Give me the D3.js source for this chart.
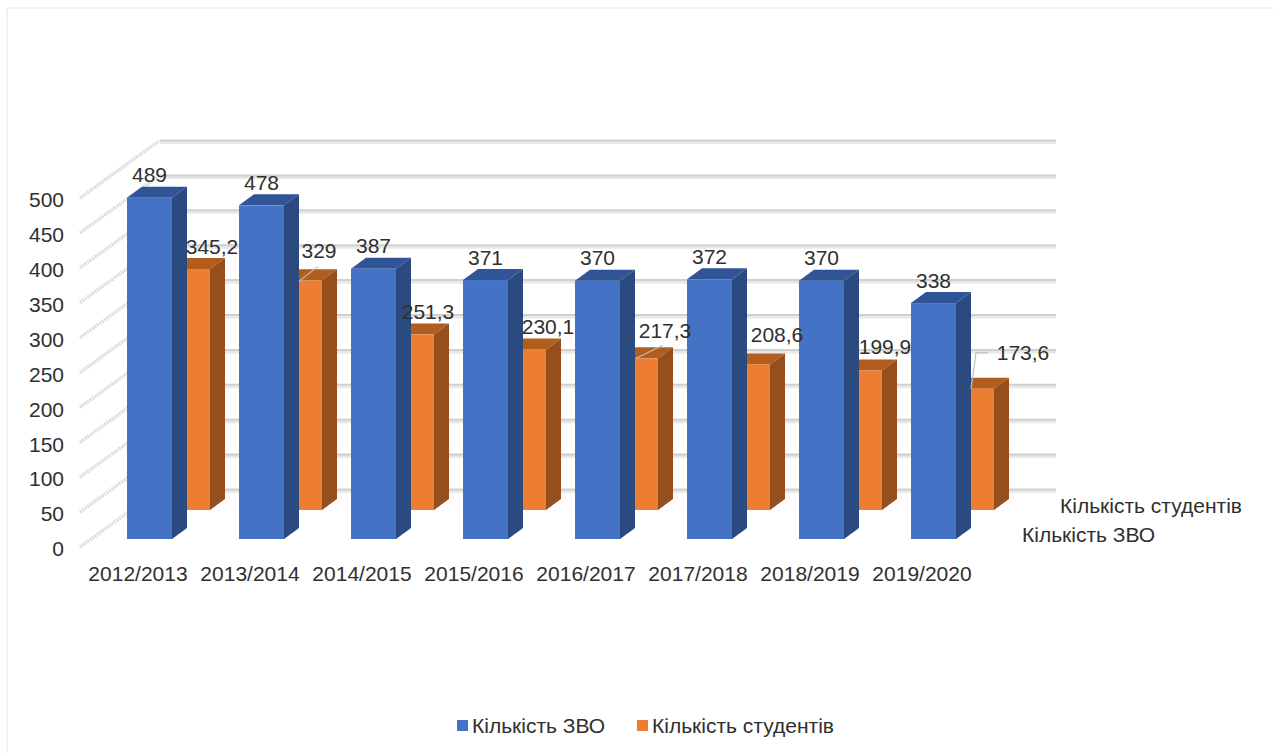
<!DOCTYPE html>
<html>
<head>
<meta charset="utf-8">
<style>
  body { margin: 0; background: #fff; }
  text { font-family: "Liberation Sans", Arial, sans-serif; fill: #2f2f2f; }
</style>
<script src="https://cdn.jsdelivr.net/npm/d3@7"></script>
</head>
<body>
<div id="chart"></div>
<script>
const years = ["2012/2013", "2013/2014", "2014/2015", "2015/2016", "2016/2017", "2017/2018", "2018/2019", "2019/2020"]
const seriesNames = ["Кількість ЗВО", "Кількість студентів"]
const zvo = [489, 478, 387, 371, 370, 372, 370, 338]
const students = [345.2, 329, 251.3, 230.1, 217.3, 208.6, 199.9, 173.6]
const studentLabels = ["345,2", "329", "251,3", "230,1", "217,3", "208,6", "199,9", "173,6"]
const yTicks = [0, 50, 100, 150, 200, 250, 300, 350, 400, 450, 500]

// hand placed labels of the orange bars, relative to the top of the bar
const labelDx = [24.5, 19.5, 16.5, 24.5, 29.5, 29.5, 25.5, 51.5]
const labelDy = [-14, -21, -15, -14, -19, -21, -15, -28]

const w = 1273
const h = 753
const barW = 45
const depthX = 15
const depthY = 11
const fontSize = 21

const colors = {
  zvo: { front: "#4472c4", side: "#2b4a80", top: "#2f5597" },
  students: { front: "#ed7d31", side: "#964f1c", top: "#b25c1d" }
}

const svg = d3.select("#chart").append("svg")
  .attr("width", w)
  .attr("height", h)
  .style("display", "block")

// chart frame, only top and left show
svg.append("path")
  .attr("d", d3.line()([[7, h], [7, 8], [w, 8]]))
  .attr("fill", "none")
  .attr("stroke", "#e6e6e6")

const x = d3.scaleBand().domain(years).range([115, 1011])
const height = d3.scaleLinear().domain([0, 500]).range([0, 349])
const seriesX = d3.scalePoint().domain(seriesNames).range([12, 50])
const seriesBase = d3.scalePoint().domain(seriesNames).range([539, 510])

// walls
const wall = { base: 490, left: 160, right: 1056, sideX: 80, sideBase: 547 }

svg.append("g").selectAll("line")
  .data(yTicks)
  .enter()
  .append("line")
  .attr("x1", wall.sideX)
  .attr("y1", d => wall.sideBase - height(d))
  .attr("x2", wall.left - 1)
  .attr("y2", d => wall.base - height(d))
  .attr("stroke", "#dcdcdc")
  .attr("stroke-width", 3.5)
  .attr("stroke-dasharray", "2 1")

const grid = svg.append("g")
grid.selectAll(".back")
  .data(yTicks)
  .enter()
  .append("line")
  .attr("class", "back")
  .attr("x1", wall.left)
  .attr("x2", wall.right)
  .attr("y1", d => wall.base - height(d) + 1.5)
  .attr("y2", d => wall.base - height(d) + 1.5)
  .attr("stroke", "#e8e8e8")
  .attr("stroke-width", 3)
grid.selectAll(".front")
  .data(yTicks)
  .enter()
  .append("line")
  .attr("class", "front")
  .attr("x1", wall.left)
  .attr("x2", wall.right)
  .attr("y1", d => wall.base - height(d) - 0.5)
  .attr("y2", d => wall.base - height(d) - 0.5)
  .attr("stroke", "#d0d0d0")
  .attr("stroke-width", 2)

function drawBars(name, values, c) {
  const g = svg.append("g")
  const left = (d, i) => x(years[i]) + seriesX(name)
  const base = seriesBase(name)
  const top = d => base - height(d)
  const poly = pts => d3.line()(pts) + "Z"

  g.selectAll(".top")
    .data(values)
    .enter()
    .append("path")
    .attr("fill", c.top)
    .attr("d", (d, i) => {
      const l = left(d, i), t = top(d)
      return poly([[l, t], [l + barW, t], [l + barW + depthX, t - depthY], [l + depthX, t - depthY]])
    })
  g.selectAll(".side")
    .data(values)
    .enter()
    .append("path")
    .attr("fill", c.side)
    .attr("d", (d, i) => {
      const r = left(d, i) + barW, t = top(d)
      return poly([[r, t], [r + depthX, t - depthY], [r + depthX, base - depthY], [r, base]])
    })
  g.selectAll(".front")
    .data(values)
    .enter()
    .append("rect")
    .attr("x", left)
    .attr("y", top)
    .attr("width", barW)
    .attr("height", d => height(d))
    .attr("fill", c.front)
}

// orange sits behind the blue
drawBars(seriesNames[1], students, colors.students)
drawBars(seriesNames[0], zvo, colors.zvo)

// leader lines
const orangeLeft = i => x(years[i]) + seriesX(seriesNames[1])
const orangeTop = i => seriesBase(seriesNames[1]) - height(students[i])
const leaders = [
  { i: 1, pts: [[22, 1], [41, -14]] },
  { i: 4, pts: [[23, 0], [50, -13]] },
  { i: 7, pts: [[22, 0], [27, -36], [39, -36]] }
]
svg.append("g").selectAll("path")
  .data(leaders)
  .enter()
  .append("path")
  .attr("fill", "none")
  .attr("stroke", "#bfbfbf")
  .attr("stroke-width", 1.2)
  .attr("d", d => d3.line()(d.pts.map(p => [orangeLeft(d.i) + p[0], orangeTop(d.i) + p[1]])))

// data labels
svg.append("g").selectAll("text")
  .data(zvo)
  .enter()
  .append("text")
  .attr("x", (d, i) => x(years[i]) + seriesX(seriesNames[0]) + barW / 2)
  .attr("y", d => seriesBase(seriesNames[0]) - height(d) - 15.5)
  .attr("text-anchor", "middle")
  .attr("font-size", fontSize)
  .text(d => d)

svg.append("g").selectAll("text")
  .data(students)
  .enter()
  .append("text")
  .attr("x", (d, i) => orangeLeft(i) + barW / 2 + labelDx[i])
  .attr("y", (d, i) => orangeTop(i) + labelDy[i] - 1)
  .attr("text-anchor", "middle")
  .attr("font-size", fontSize)
  .text((d, i) => studentLabels[i])

// axes
const yAxisScale = d3.scaleLinear().domain([0, 500]).range([549, 200])
const yAxis = d3.axisLeft(yAxisScale).tickValues(yTicks).tickSize(0).tickPadding(0)
const yG = svg.append("g").attr("transform", "translate(64, 0)").call(yAxis)
yG.select(".domain").remove()
yG.selectAll("text").attr("font-size", fontSize).style("fill", "#2f2f2f")

const xAxis = d3.axisBottom(x).tickSize(0).tickPadding(0)
const xG = svg.append("g").attr("transform", "translate(-33, 566)").call(xAxis)
xG.select(".domain").remove()
xG.selectAll("text").attr("font-size", fontSize).style("fill", "#2f2f2f")

// depth axis names
const depthLabels = svg.append("g").selectAll("text")
  .data(seriesNames)
  .enter()
  .append("text")
  .attr("x", d => d === seriesNames[0] ? 1022 : 1060)
  .attr("y", d => d === seriesNames[0] ? 542 : 513)
  .attr("font-size", fontSize)
  .text(d => d)

// legend
const legendX = d3.scaleOrdinal().domain(seriesNames).range([457, 637])
const legend = svg.append("g").selectAll("g")
  .data(seriesNames)
  .enter()
  .append("g")
  .attr("transform", d => `translate(${legendX(d)}, 720)`)
legend.append("rect")
  .attr("width", 11)
  .attr("height", 11)
  .attr("fill", (d, i) => i === 0 ? colors.zvo.front : colors.students.front)
legend.append("text")
  .attr("x", 15)
  .attr("y", 13)
  .attr("font-size", fontSize)
  .text(d => d)
</script>
</body>
</html>
